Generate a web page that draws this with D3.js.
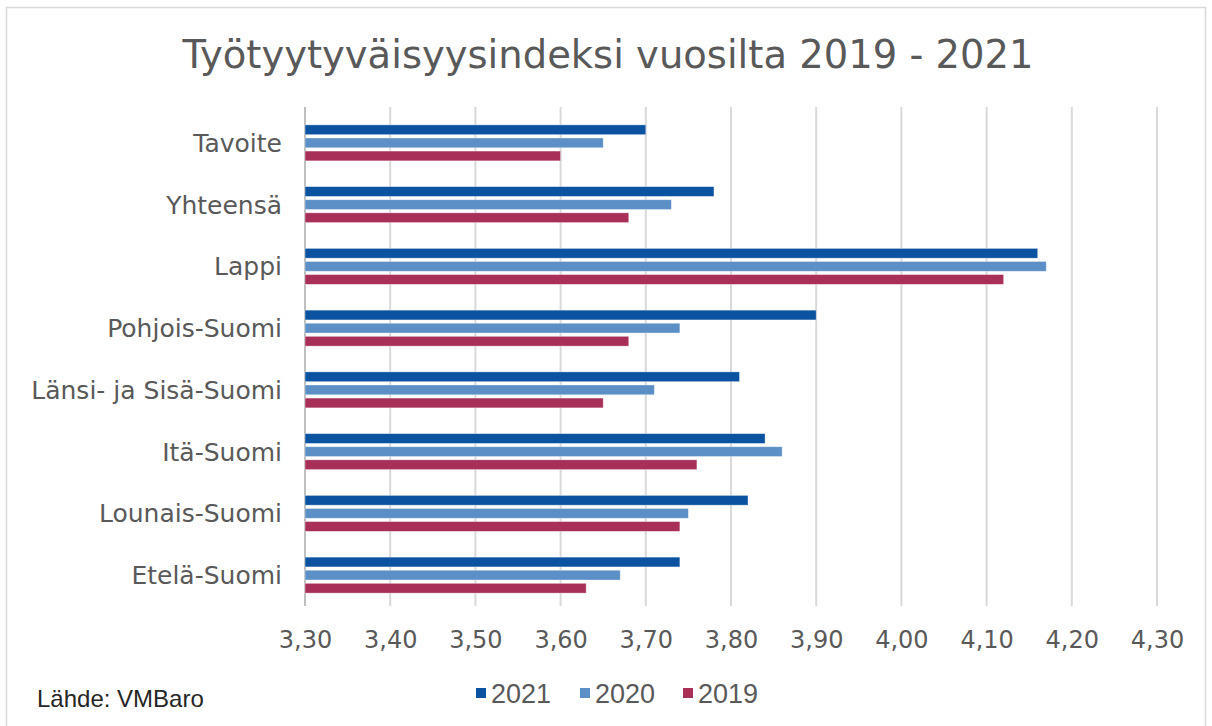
<!DOCTYPE html>
<html>
<head>
<meta charset="utf-8">
<script src="https://cdn.jsdelivr.net/npm/d3@7"></script>
<style>
  body { margin: 0; background: #fff; }
  svg { display: block; }
</style>
</head>
<body>
<div id="chart"></div>
<script>
// data
const categories = ["Tavoite", "Yhteensä", "Lappi", "Pohjois-Suomi", "Länsi- ja Sisä-Suomi", "Itä-Suomi", "Lounais-Suomi", "Etelä-Suomi"];
const seriesNames = ["2021", "2020", "2019"];
const values2021 = [3.70, 3.78, 4.16, 3.90, 3.81, 3.84, 3.82, 3.74];
const values2020 = [3.65, 3.73, 4.17, 3.74, 3.71, 3.86, 3.75, 3.67];
const values2019 = [3.60, 3.68, 4.12, 3.68, 3.65, 3.76, 3.74, 3.63];
const tickValues = [3.30, 3.40, 3.50, 3.60, 3.70, 3.80, 3.90, 4.00, 4.10, 4.20, 4.30];

const colors = {"2021": "#0b53a0", "2020": "#5b8fc6", "2019": "#a72f58"};
const seriesValues = {"2021": values2021, "2020": values2020, "2019": values2019};

const W = 1212, H = 726;
const plot = {left: 305, right: 1157, top: 112, bottom: 606};

const svg = d3.select("#chart")
  .append("svg")
    .attr("width", W)
    .attr("height", H);

// chart border
svg.append("rect")
  .attr("x", 6.5).attr("y", 7.5)
  .attr("width", 1199).attr("height", 740)
  .attr("fill", "#fff")
  .attr("stroke", "#d9d9d9")
  .attr("stroke-width", 1.5);

// scales
const x = d3.scaleLinear()
  .domain([tickValues[0], tickValues[tickValues.length - 1]])
  .range([plot.left, plot.right]);

const y = d3.scaleBand()
  .domain(categories)
  .range([plot.top, plot.bottom])
  .paddingInner(0.417)
  .paddingOuter(0.2085);

const ySub = d3.scaleBand()
  .domain(seriesNames)
  .range([0, y.bandwidth()])
  .paddingInner(0.25);

const fiLocale = d3.formatLocale({decimal: ",", thousands: " ", grouping: [3], currency: ["", " €"]});
const fmt = fiLocale.format(".2f");

// gridlines (with little tick below the plot)
svg.append("g")
  .selectAll("line")
  .data(tickValues)
  .join("line")
    .attr("x1", d => x(d)).attr("x2", d => x(d))
    .attr("y1", 107).attr("y2", plot.bottom)
    .attr("stroke", (d, i) => i === 0 ? "#bfbfbf" : "#d9d9d9")
    .attr("stroke-width", 2);

// x axis labels
const xAxis = svg.append("g")
  .attr("transform", `translate(0, ${plot.bottom})`)
  .call(d3.axisBottom(x).tickValues(tickValues).tickFormat(fmt).tickSize(0).tickPadding(25));
xAxis.select(".domain").remove();
xAxis.selectAll("text")
  .style("font-family", "'DejaVu Sans', Verdana, sans-serif")
  .style("font-size", "24px")
  .attr("fill", "#595959");

// category labels
svg.append("g")
  .selectAll("text")
  .data(categories)
  .join("text")
    .attr("x", 282)
    .attr("y", d => y(d) + y.bandwidth() / 2 + 9)
    .attr("text-anchor", "end")
    .style("font-family", "'DejaVu Sans', Verdana, sans-serif")
    .style("font-size", "25px")
    .attr("fill", "#595959")
    .text(d => d);

// bars
const groups = svg.append("g")
  .selectAll("g")
  .data(categories)
  .join("g")
    .attr("transform", d => `translate(0, ${y(d)})`);

groups.selectAll("rect")
  .data((d, i) => seriesNames.map(s => ({series: s, value: seriesValues[s][i]})))
  .join("rect")
    .attr("x", x(tickValues[0]))
    .attr("y", d => ySub(d.series))
    .attr("width", d => x(d.value) - x(tickValues[0]))
    .attr("height", ySub.bandwidth())
    .attr("fill", d => colors[d.series])
    .attr("stroke", "#ffffff")
    .attr("stroke-opacity", 0.5)
    .attr("stroke-width", 0.75);

// title
svg.append("text")
  .attr("x", 608)
  .attr("y", 68)
  .attr("text-anchor", "middle")
  .style("font-family", "'DejaVu Sans', Verdana, sans-serif")
  .style("font-size", "38.5px")
  .attr("fill", "#595959")
  .text("Työtyytyväisyysindeksi vuosilta 2019 - 2021");

// legend
const legendX = [476, 580, 683];
const legend = svg.append("g")
  .selectAll("g")
  .data(seriesNames)
  .join("g")
    .attr("transform", (d, i) => `translate(${legendX[i]}, 693)`);
legend.append("rect")
  .attr("x", 0).attr("y", -5)
  .attr("width", 10).attr("height", 10)
  .attr("fill", d => colors[d]);
legend.append("text")
  .attr("x", 15).attr("y", 10)
  .style("font-family", "'Liberation Sans', Arial, sans-serif")
  .style("font-size", "27px")
  .attr("fill", "#595959")
  .text(d => d);

// source
svg.append("text")
  .attr("x", 37).attr("y", 707)
  .style("font-family", "'Liberation Sans', Arial, sans-serif")
  .style("font-size", "24px")
  .attr("fill", "#262626")
  .text("Lähde: VMBaro");
</script>
</body>
</html>
